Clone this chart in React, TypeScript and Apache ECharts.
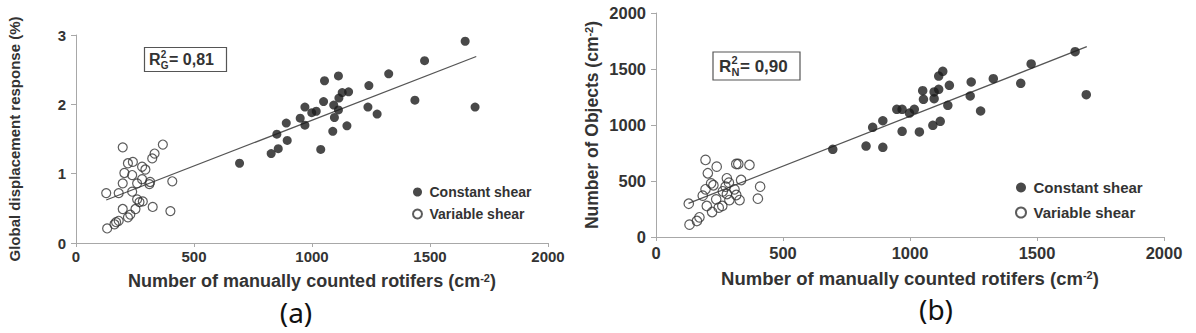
import React, { useEffect, useRef } from "react";
import * as echarts from "echarts";

// ---------- data ----------
const xTickMin = 0;
const xTickMax = 2000;
const xTickStep = 500;
const yTicksA = [0, 1, 2, 3];
const yTicksB = [0, 500, 1000, 1500, 2000];

// Panel (a): global displacement response (%)
const constXA = [693, 827, 857, 851, 895, 891, 950, 970, 970, 999, 1018, 1037, 1049, 1053, 1088, 1092, 1095, 1112, 1114, 1112, 1128, 1155, 1148, 1241, 1237, 1276, 1325, 1436, 1477, 1649, 1691];
const constYA = [1.15, 1.29, 1.36, 1.57, 1.48, 1.73, 1.80, 1.70, 1.96, 1.88, 1.90, 1.35, 2.04, 2.34, 1.61, 1.99, 1.81, 2.41, 2.09, 1.92, 2.17, 2.18, 1.69, 2.27, 1.96, 1.86, 2.44, 2.06, 2.63, 2.91, 1.96];
const varXA = [128, 181, 132, 163, 181, 198, 198, 198, 205, 220, 241, 238, 238, 220, 230, 252, 259, 269, 283, 259, 280, 280, 294, 311, 314, 323, 333, 325, 368, 408, 400, 170];
const varYA = [0.72, 0.72, 0.21, 0.27, 0.32, 1.38, 0.86, 0.49, 1.01, 1.15, 1.17, 0.98, 0.74, 0.37, 0.41, 0.49, 0.63, 0.59, 0.60, 0.86, 0.92, 1.10, 1.06, 0.85, 0.88, 1.22, 1.29, 0.52, 1.42, 0.89, 0.46, 0.30];
const fitX = [128, 1696];
const fitYA = [0.62, 2.69];

// Panel (b): number of objects (cm-2)
const constXB = [696, 827, 853, 893, 893, 948, 969, 969, 998, 1017, 1037, 1050, 1053, 1090, 1095, 1095, 1113, 1113, 1119, 1129, 1149, 1155, 1237, 1241, 1278, 1328, 1436, 1477, 1650, 1694];
const constYB = [783, 812, 979, 1038, 801, 1140, 1140, 944, 1107, 1140, 938, 1306, 1229, 997, 1295, 1235, 1437, 1319, 1033, 1479, 1176, 1354, 1259, 1384, 1125, 1414, 1372, 1545, 1655, 1271];
const varXB = [129, 132, 161, 171, 184, 195, 200, 195, 204, 217, 221, 226, 239, 237, 247, 261, 263, 279, 279, 287, 289, 274, 309, 316, 324, 329, 335, 368, 401, 410, 316];
const varYB = [297, 110, 143, 176, 369, 426, 277, 688, 569, 479, 223, 462, 628, 336, 262, 277, 408, 384, 524, 485, 330, 449, 426, 375, 652, 330, 509, 643, 342, 449, 652];
const fitYB = [301, 1699];

const seriesNames = ["Constant shear", "Variable shear"];
const r2A = { base: "R", sup: "2", sub: "G", value: "= 0,81" };
const r2B = { base: "R", sup: "2", sub: "N", value: "= 0,90" };
const panelLabels = ["(a)", "(b)"];

// ---------- styling ----------
const FONT = '"Liberation Sans", Arial, Helvetica, sans-serif';
const TEXT = "#333333";
const AXIS = "#a8a8a8";

const pts = (xs: number[], ys: number[]) => xs.map((x, i) => [x, ys[i]]);
const plain = (v: number) => String(v);

function xAxis(grid: number, labelSize: number, nameSize: number, gap: number, margin: number) {
  return {
    type: "value",
    gridIndex: grid,
    min: xTickMin,
    max: xTickMax,
    interval: xTickStep,
    axisLine: { show: true, onZero: false, lineStyle: { color: AXIS, width: 1 } },
    axisTick: { show: true, length: 4, lineStyle: { color: AXIS } },
    splitLine: { show: false },
    axisLabel: { color: TEXT, fontSize: labelSize, fontWeight: "bold", fontFamily: FONT, margin, formatter: plain },
    name: "Number of manually counted rotifers (cm{sup|-2})",
    nameLocation: "middle",
    nameGap: gap,
    nameTextStyle: {
      color: TEXT,
      fontSize: nameSize,
      fontWeight: "bold",
      fontFamily: FONT,
      rich: {
        sup: { fontSize: Math.round(nameSize * 0.62), fontWeight: "bold", fontFamily: FONT, color: TEXT, verticalAlign: "top" },
      },
    },
  };
}

function yAxis(grid: number, ticks: number[], name: string, labelSize: number, nameSize: number, gap: number) {
  return {
    type: "value",
    gridIndex: grid,
    min: ticks[0],
    max: ticks[ticks.length - 1],
    interval: ticks[1] - ticks[0],
    axisLine: { show: true, onZero: false, lineStyle: { color: AXIS, width: 1 } },
    axisTick: { show: true, length: 5, lineStyle: { color: AXIS } },
    splitLine: { show: false },
    axisLabel: { color: TEXT, fontSize: labelSize, fontWeight: "bold", fontFamily: FONT, margin: 10, formatter: plain },
    name,
    nameLocation: "middle",
    nameGap: gap,
    nameTextStyle: {
      color: TEXT,
      fontSize: nameSize,
      fontWeight: "bold",
      fontFamily: FONT,
      rich: {
        sup: { fontSize: Math.round(nameSize * 0.62), fontWeight: "bold", fontFamily: FONT, color: TEXT, verticalAlign: "top" },
      },
    },
  };
}

function r2Box(r2: typeof r2A, bx: number, by: number, bw: number, bh: number, fs: number, tx: number, vx: number) {
  const cy = by + bh / 2;
  const small = Math.round(fs * 0.62);
  return [
    { type: "rect", z: 20, shape: { x: bx, y: by, width: bw, height: bh }, style: { fill: "#fff", stroke: "#555", lineWidth: 1.2 } },
    { type: "text", z: 21, x: tx, y: cy, style: { text: r2.base, fontSize: fs, fontWeight: "bold", fontFamily: FONT, fill: TEXT, verticalAlign: "middle" } },
    { type: "text", z: 21, x: tx + fs * 0.74, y: cy - fs * 0.33, style: { text: r2.sup, fontSize: small, fontWeight: "bold", fontFamily: FONT, fill: TEXT, verticalAlign: "middle" } },
    { type: "text", z: 21, x: tx + fs * 0.74, y: cy + fs * 0.36, style: { text: r2.sub, fontSize: small, fontWeight: "bold", fontFamily: FONT, fill: TEXT, verticalAlign: "middle" } },
    { type: "text", z: 21, x: vx, y: cy, style: { text: r2.value, fontSize: fs, fontWeight: "bold", fontFamily: FONT, fill: TEXT, verticalAlign: "middle" } },
  ];
}

function legend(left: number, top: number, fs: number, gap: number, iw: number, ih: number) {
  return {
    data: seriesNames,
    orient: "vertical",
    left,
    top,
    icon: "circle",
    itemWidth: iw,
    itemHeight: ih,
    itemGap: gap,
    selectedMode: false,
    textStyle: { color: TEXT, fontSize: fs, fontWeight: "bold", fontFamily: FONT },
  };
}

const filledStyle = { color: "#1c1c1c" };
const openStyle = { color: "rgba(255,255,255,0)", borderColor: "#333", borderWidth: 1.2 };
const lineStyle = { color: "#555", width: 1.3 };

export default function App() {
  const ref = useRef<HTMLDivElement>(null);
  useEffect(() => {
    if (!ref.current) return;
    const chart = echarts.init(ref.current, undefined, { renderer: "svg" });
    const option: any = {
      animation: false,
      backgroundColor: "#ffffff",
      grid: [
        { left: 76, top: 35, width: 472, height: 208 },
        { left: 656, top: 13, width: 508, height: 224 },
      ],
      xAxis: [xAxis(0, 15, 18, 29, 6), xAxis(1, 16.5, 18.5, 32, 7)],
      yAxis: [
        yAxis(0, yTicksA, "Global displacement response (%)", 15, 15, 54),
        yAxis(1, yTicksB, "Number of Objects (cm{sup|-2})", 16.5, 17.5, 55),
      ],
      legend: [legend(407, 180, 14, 8, 14, 9), legend(1010, 175, 15, 10, 15, 10)],
      series: [
        { name: "fitA", type: "line", xAxisIndex: 0, yAxisIndex: 0, data: pts(fitX, fitYA), symbol: "none", lineStyle, z: 1, silent: true },
        { name: seriesNames[0], type: "scatter", xAxisIndex: 0, yAxisIndex: 0, data: pts(constXA, constYA), symbol: "circle", symbolSize: 9, itemStyle: filledStyle, z: 3 },
        { name: seriesNames[1], type: "scatter", xAxisIndex: 0, yAxisIndex: 0, data: pts(varXA, varYA), symbol: "circle", symbolSize: 9, itemStyle: openStyle, z: 2 },
        { name: "fitB", type: "line", xAxisIndex: 1, yAxisIndex: 1, data: pts(fitX, fitYB), symbol: "none", lineStyle, z: 1, silent: true },
        { name: seriesNames[0], type: "scatter", xAxisIndex: 1, yAxisIndex: 1, data: pts(constXB, constYB), symbol: "circle", symbolSize: 9.5, itemStyle: filledStyle, z: 3 },
        { name: seriesNames[1], type: "scatter", xAxisIndex: 1, yAxisIndex: 1, data: pts(varXB, varYB), symbol: "circle", symbolSize: 9.5, itemStyle: openStyle, z: 2 },
      ],
      graphic: [
        ...r2Box(r2A, 144.5, 47.5, 82, 24, 16, 149, 169),
        ...r2Box(r2B, 713, 52, 87, 28, 17, 719, 740),
        { type: "text", x: 296, y: 312, style: { text: panelLabels[0], fontSize: 28, fontFamily: '"Noto Sans", "Open Sans", sans-serif', fill: "#111", align: "center", verticalAlign: "middle" } },
        { type: "text", x: 936, y: 309, style: { text: panelLabels[1], fontSize: 28, fontFamily: '"Noto Sans", "Open Sans", sans-serif', fill: "#111", align: "center", verticalAlign: "middle" } },
      ],
    };
    chart.setOption(option);
    return () => chart.dispose();
  }, []);
  return <div ref={ref} style={{ position: "fixed", left: 0, top: 0, width: 1196, height: 333, background: "#fff" }} />;
}
